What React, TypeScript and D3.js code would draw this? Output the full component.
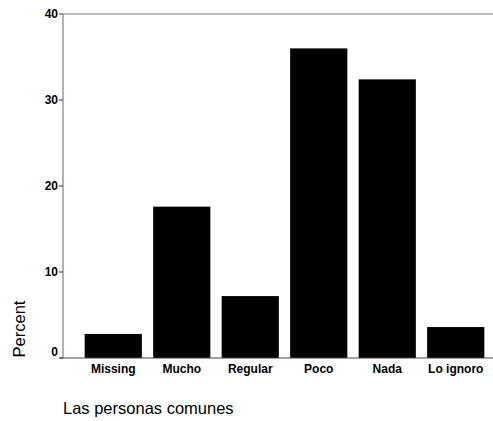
import React from "react";
import * as d3 from "d3";

const categories = ["Missing", "Mucho", "Regular", "Poco", "Nada", "Lo ignoro"];
const percents = [2.8, 17.6, 7.2, 36.0, 32.4, 3.6];
const yTicks = [0, 10, 20, 30, 40];
const yLabel = "Percent";
const xLabel = "Las personas comunes";

export default function App() {
  const W = 493, H = 421;
  const axisX = 63, top = 14, bottom = 358, right = 493;
  const y = d3.scaleLinear().domain([0, 40]).range([bottom, top]);
  const x = d3.scaleBand<string>().domain(categories).range([79, 490]).paddingInner(0.165).paddingOuter(0.0825);
  const font = "'Liberation Sans', Arial, sans-serif";
  return (
    <svg width={W} height={H} style={{ position: "absolute", left: 0, top: 0, background: "#fff" }}>
      <rect x={0} y={0} width={W} height={H} fill="#fff" />
      {categories.map((c, i) => (
        <rect key={c} x={x(c)} y={y(percents[i])} width={x.bandwidth()} height={bottom - y(percents[i])} fill="#000" />
      ))}
      <line x1={axisX} x2={right} y1={top} y2={top} stroke="#777" strokeWidth={1} />
      <line x1={axisX} x2={axisX} y1={top} y2={bottom} stroke="#666" strokeWidth={1} />
      <line x1={axisX - 3} x2={right} y1={bottom} y2={bottom} stroke="#444" strokeWidth={1} />
      {yTicks.map((t) => (
        <g key={t}>
          <line x1={axisX - 4} x2={axisX} y1={y(t)} y2={y(t)} stroke="#333" />
          <text x={axisX - 5} y={y(t) - (t === 0 ? 6 : 0)} dy="0.35em" textAnchor="end" fontFamily={font} fontWeight="bold" fontSize={12}>{t}</text>
        </g>
      ))}
      {categories.map((c) => (
        <text key={c} x={(x(c) as number) + x.bandwidth() / 2} y={373} textAnchor="middle" fontFamily={font} fontWeight="bold" fontSize={12}>{c}</text>
      ))}
      <text transform={`translate(25,329) rotate(-90)`} textAnchor="middle" fontFamily={font} fontSize={16.5}>{yLabel}</text>
      <text x={63} y={414} fontFamily={font} fontSize={16.5}>{xLabel}</text>
    </svg>
  );
}
